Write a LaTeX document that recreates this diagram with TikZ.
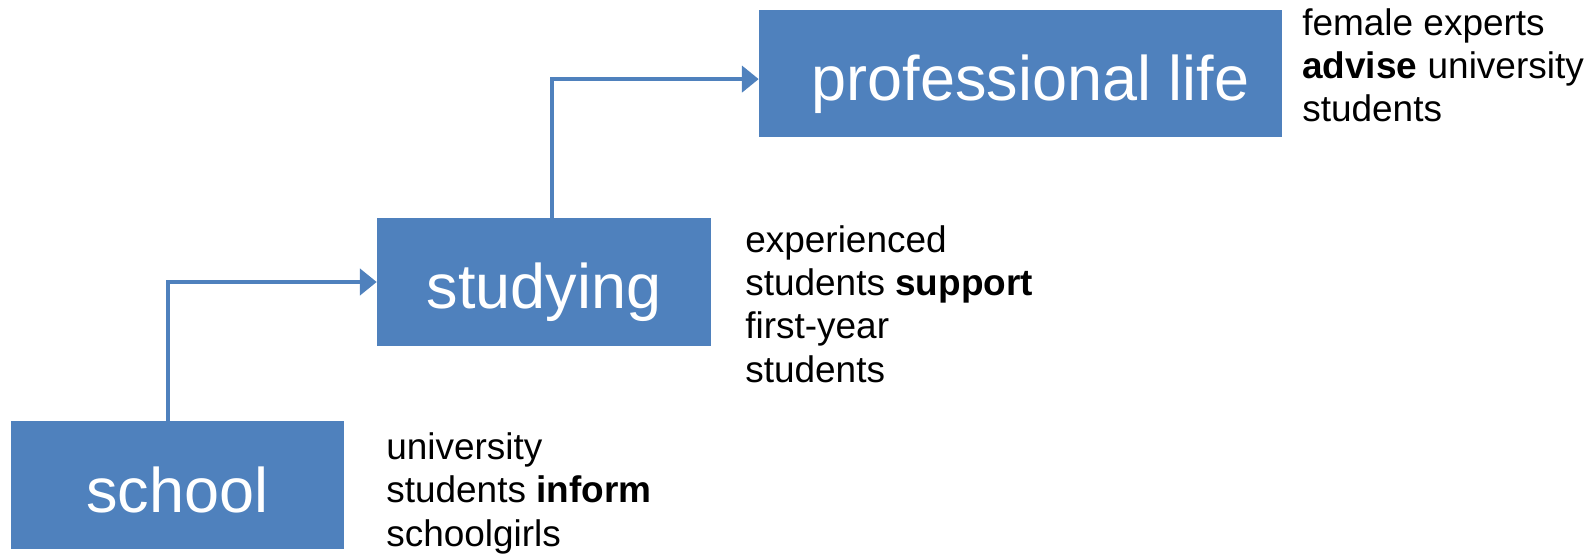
\documentclass[tikz,border=0pt]{standalone}
\usepackage{fontspec}
\setmainfont{Liberation Sans}
\usepackage{tikz}
\usetikzlibrary{arrows.meta}

\definecolor{stageblue}{HTML}{4F81BD}

\begin{document}
\begin{tikzpicture}[
    stagebox/.style={rectangle, fill=stageblue, text=white, inner sep=0pt,
        minimum height=3.2cm, text height=1.6cm, text depth=0.25cm,
        font=\fontsize{44.8pt}{50pt}\selectfont},
    notetext/.style={anchor=base west, align=left, inner sep=0pt,
        font=\fontsize{26.3pt}{30.6pt}\selectfont},
    steparrow/.style={draw=stageblue, line width=0.11cm,
        -{Triangle[length=0.42cm, width=0.65cm]}}]

    \useasboundingbox (0,0) rectangle (39.85,13.875);

    % the three stages
    \node[stagebox, minimum width=8.325cm] (school) at (4.4375,1.75) {school};
    \node[stagebox, minimum width=8.35cm] (studying) at (13.6,6.825) {studying};
    \node[stagebox, minimum width=13.075cm, minimum height=3.175cm] (prof) at (25.5125,12.0375) {\hspace{0.5cm}professional life};

    % what happens at each stage (placed at the baseline of the last line)
    \node[notetext] (schoolnote) at (9.65,0.225) {university\\students \textbf{inform}\\schoolgirls};
    \node[notetext] (studynote) at (18.625,4.325) {experienced\\students \textbf{support}\\first-year\\students};
    \node[notetext] (profnote) at (32.55,10.825) {female experts\\\textbf{advise} university\\students};

    % steps up
    \draw[steparrow] ([xshift=-0.2375cm]school.north) |- (studying.west);
    \draw[steparrow] ([xshift=0.2cm]studying.north) |- ([yshift=-0.14cm]prof.west);

\end{tikzpicture}
\end{document}
